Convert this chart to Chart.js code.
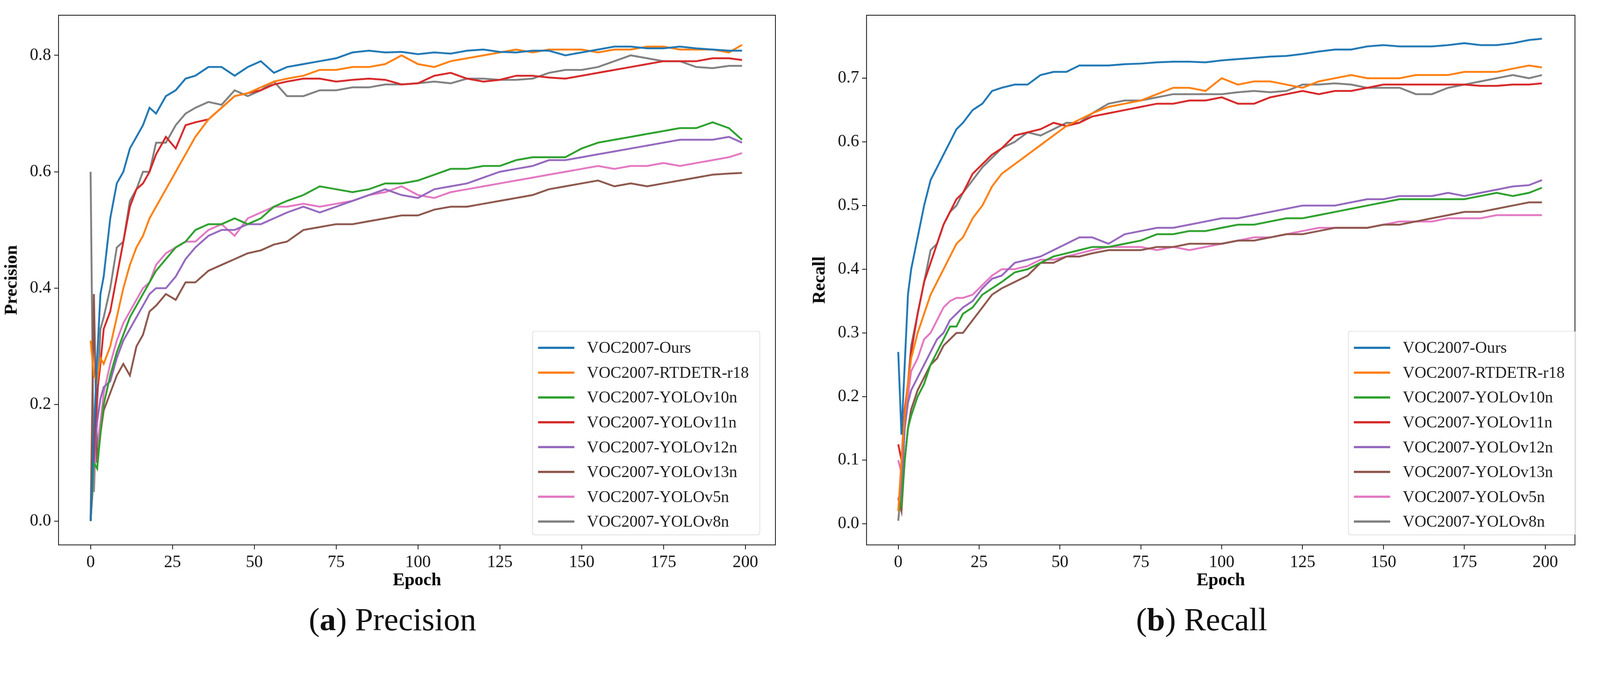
<!DOCTYPE html>
<html>
<head>
<meta charset="utf-8">
<script src="https://cdn.jsdelivr.net/npm/chart.js@4.4.1/dist/chart.umd.min.js"></script>
<style>
  body { margin: 0; background: #fff; overflow: hidden; font-family: "Liberation Serif", serif; }
  #page { position: relative; width: 4319px; height: 1748px; transform: scale(0.948); transform-origin: 0 0; }
  .wrap { position: absolute; top: 0; width: 2160px; height: 1600px; }
  .legend { position: absolute; border: 2px solid #ddd; border-radius: 8px; background: rgba(255,255,255,0.85); padding: 10px 14px; box-sizing: border-box; }
  .legend div { height: 67px; display: flex; align-items: center; font-size: 44px; color: #222; white-space: nowrap; }
  .legend span.sw { display: inline-block; width: 98px; height: 6px; margin-right: 34px; flex: none; }
  .cap { position: absolute; top: 1622px; font-size: 88px; color: #111; width: 1000px; text-align: center; }
</style>
</head>
<body>
<div id="page">
<div class="wrap" style="left:0"><canvas id="prec_chart"></canvas></div>
<div class="wrap" style="left:2182px"><canvas id="recall_chart"></canvas></div>
<div class="legend" id="leg1" style="left:1437px;top:893px;width:616px;height:552px"></div>
<div class="legend" id="leg2" style="left:3640px;top:893px;width:616px;height:552px"></div>
<div class="cap" style="left:560px">(<b>a</b>) Precision</div>
<div class="cap" style="left:2745px">(<b>b</b>) Recall</div>
</div>
<script>
/* global Chart */

const epochs = [0,1,2,3,4,6,8,10,12,14,16,18,20,23,26,29,32,36,40,44,48,52,56,60,65,70,75,80,85,90,95,100,105,110,115,120,125,130,135,140,145,150,155,160,165,170,175,180,185,190,195,199];

const names = ['VOC2007-Ours','VOC2007-RTDETR-r18','VOC2007-YOLOv10n','VOC2007-YOLOv11n','VOC2007-YOLOv12n','VOC2007-YOLOv13n','VOC2007-YOLOv5n','VOC2007-YOLOv8n'];
const colors = ['#1f77b4','#ff7f0e','#2ca02c','#d62728','#9467bd','#8c564b','#e377c2','#7f7f7f'];

// precision
const p_ours = [0.0,0.15,0.28,0.39,0.42,0.52,0.58,0.60,0.64,0.66,0.68,0.71,0.70,0.73,0.74,0.76,0.765,0.78,0.78,0.765,0.78,0.79,0.77,0.78,0.785,0.79,0.795,0.805,0.808,0.805,0.806,0.802,0.805,0.803,0.808,0.81,0.806,0.805,0.808,0.808,0.80,0.805,0.81,0.815,0.815,0.812,0.812,0.815,0.812,0.81,0.808,0.808];
const p_rtdetr = [0.31,0.25,0.24,0.28,0.27,0.30,0.35,0.40,0.44,0.47,0.49,0.52,0.54,0.57,0.60,0.63,0.66,0.69,0.71,0.73,0.735,0.745,0.755,0.76,0.765,0.775,0.775,0.78,0.78,0.785,0.80,0.785,0.78,0.79,0.795,0.80,0.805,0.81,0.805,0.81,0.81,0.81,0.805,0.81,0.81,0.815,0.815,0.81,0.81,0.81,0.805,0.818];
const p_v10 = [0.0,0.10,0.09,0.15,0.20,0.25,0.29,0.32,0.35,0.37,0.39,0.41,0.43,0.45,0.47,0.48,0.50,0.51,0.51,0.52,0.51,0.52,0.54,0.55,0.56,0.575,0.57,0.565,0.57,0.58,0.58,0.585,0.595,0.605,0.605,0.61,0.61,0.62,0.625,0.625,0.625,0.64,0.65,0.655,0.66,0.665,0.67,0.675,0.675,0.685,0.675,0.655];
const p_v11 = [0.0,0.12,0.22,0.27,0.33,0.36,0.42,0.48,0.54,0.57,0.58,0.60,0.63,0.66,0.64,0.68,0.685,0.69,0.71,0.73,0.735,0.74,0.75,0.755,0.76,0.76,0.755,0.758,0.76,0.758,0.75,0.752,0.765,0.77,0.76,0.755,0.758,0.765,0.765,0.762,0.76,0.765,0.77,0.775,0.78,0.785,0.79,0.79,0.79,0.795,0.795,0.792];
const p_v12 = [0.0,0.10,0.17,0.21,0.23,0.24,0.28,0.31,0.33,0.35,0.37,0.39,0.40,0.40,0.42,0.45,0.47,0.49,0.50,0.50,0.51,0.51,0.52,0.53,0.54,0.53,0.54,0.55,0.56,0.57,0.56,0.555,0.57,0.575,0.58,0.59,0.60,0.605,0.61,0.62,0.62,0.625,0.63,0.635,0.64,0.645,0.65,0.655,0.655,0.655,0.66,0.65];
const p_v13 = [0.0,0.39,0.10,0.15,0.19,0.22,0.25,0.27,0.25,0.30,0.32,0.36,0.37,0.39,0.38,0.41,0.41,0.43,0.44,0.45,0.46,0.465,0.475,0.48,0.50,0.505,0.51,0.51,0.515,0.52,0.525,0.525,0.535,0.54,0.54,0.545,0.55,0.555,0.56,0.57,0.575,0.58,0.585,0.575,0.58,0.575,0.58,0.585,0.59,0.595,0.597,0.598];
const p_v5 = [0.0,0.08,0.13,0.17,0.22,0.27,0.31,0.34,0.36,0.38,0.40,0.41,0.44,0.46,0.47,0.48,0.48,0.50,0.51,0.49,0.52,0.53,0.54,0.54,0.545,0.54,0.545,0.55,0.56,0.565,0.575,0.56,0.555,0.565,0.57,0.575,0.58,0.585,0.59,0.595,0.60,0.605,0.61,0.605,0.61,0.61,0.615,0.61,0.615,0.62,0.625,0.632];
const p_v8 = [0.60,0.05,0.20,0.33,0.35,0.40,0.47,0.48,0.55,0.57,0.60,0.60,0.65,0.65,0.68,0.70,0.71,0.72,0.715,0.74,0.73,0.74,0.755,0.73,0.73,0.74,0.74,0.745,0.745,0.75,0.75,0.752,0.755,0.752,0.76,0.76,0.758,0.758,0.76,0.77,0.775,0.775,0.78,0.79,0.80,0.795,0.79,0.79,0.78,0.778,0.782,0.782];

// recall
const r_ours = [0.27,0.14,0.25,0.36,0.40,0.45,0.50,0.54,0.56,0.58,0.60,0.62,0.63,0.65,0.66,0.68,0.685,0.69,0.69,0.705,0.71,0.71,0.72,0.72,0.72,0.722,0.723,0.725,0.726,0.726,0.725,0.728,0.73,0.732,0.734,0.735,0.738,0.742,0.745,0.745,0.75,0.752,0.75,0.75,0.75,0.752,0.755,0.752,0.752,0.755,0.76,0.762];
const r_rtdetr = [0.02,0.10,0.17,0.22,0.26,0.30,0.33,0.36,0.38,0.40,0.42,0.44,0.45,0.48,0.50,0.53,0.55,0.565,0.58,0.595,0.61,0.625,0.635,0.645,0.655,0.66,0.665,0.675,0.685,0.685,0.68,0.70,0.69,0.695,0.695,0.69,0.685,0.695,0.70,0.705,0.70,0.70,0.70,0.705,0.705,0.705,0.71,0.71,0.71,0.715,0.72,0.717];
const r_v10 = [0.02,0.03,0.10,0.15,0.17,0.20,0.22,0.25,0.27,0.29,0.31,0.31,0.33,0.34,0.36,0.37,0.38,0.395,0.40,0.41,0.42,0.425,0.43,0.435,0.435,0.44,0.445,0.455,0.455,0.46,0.46,0.465,0.47,0.47,0.475,0.48,0.48,0.485,0.49,0.495,0.50,0.505,0.51,0.51,0.51,0.51,0.51,0.515,0.52,0.515,0.52,0.528];
const r_v11 = [0.125,0.10,0.18,0.22,0.27,0.33,0.38,0.41,0.44,0.47,0.49,0.51,0.52,0.55,0.565,0.58,0.59,0.61,0.615,0.62,0.63,0.625,0.63,0.64,0.645,0.65,0.655,0.66,0.66,0.665,0.665,0.67,0.66,0.66,0.67,0.675,0.68,0.675,0.68,0.68,0.685,0.69,0.69,0.69,0.69,0.69,0.69,0.688,0.688,0.69,0.69,0.692];
const r_v12 = [0.04,0.05,0.15,0.19,0.21,0.23,0.25,0.27,0.29,0.30,0.32,0.33,0.34,0.35,0.37,0.385,0.39,0.41,0.415,0.42,0.43,0.44,0.45,0.45,0.44,0.455,0.46,0.465,0.465,0.47,0.475,0.48,0.48,0.485,0.49,0.495,0.50,0.50,0.50,0.505,0.51,0.51,0.515,0.515,0.515,0.52,0.515,0.52,0.525,0.53,0.532,0.54];
const r_v13 = [0.04,0.02,0.10,0.15,0.18,0.21,0.23,0.25,0.26,0.28,0.29,0.30,0.30,0.32,0.34,0.36,0.37,0.38,0.39,0.41,0.41,0.42,0.42,0.425,0.43,0.43,0.43,0.435,0.435,0.44,0.44,0.44,0.445,0.445,0.45,0.455,0.455,0.46,0.465,0.465,0.465,0.47,0.47,0.475,0.48,0.485,0.49,0.49,0.495,0.50,0.505,0.505];
const r_v5 = [0.10,0.08,0.16,0.20,0.24,0.26,0.29,0.30,0.32,0.34,0.35,0.355,0.355,0.36,0.375,0.39,0.40,0.40,0.405,0.415,0.415,0.42,0.425,0.43,0.435,0.435,0.435,0.43,0.435,0.43,0.435,0.44,0.445,0.45,0.45,0.455,0.46,0.465,0.465,0.465,0.465,0.47,0.475,0.475,0.475,0.48,0.48,0.48,0.485,0.485,0.485,0.485];
const r_v8 = [0.005,0.06,0.17,0.22,0.28,0.33,0.38,0.43,0.44,0.47,0.49,0.50,0.52,0.54,0.56,0.575,0.59,0.60,0.615,0.61,0.62,0.63,0.63,0.645,0.66,0.665,0.665,0.67,0.675,0.675,0.675,0.675,0.678,0.68,0.678,0.68,0.69,0.69,0.692,0.69,0.685,0.685,0.685,0.675,0.675,0.685,0.69,0.695,0.70,0.705,0.70,0.705];

const precisionSeries = [p_ours, p_rtdetr, p_v10, p_v11, p_v12, p_v13, p_v5, p_v8];
const recallSeries = [r_ours, r_rtdetr, r_v10, r_v11, r_v12, r_v13, r_v5, r_v8];

var frame = {
    id: 'frame',
    afterDraw: function (chart) {
        var a = chart.chartArea, ctx = chart.ctx;
        ctx.save();
        ctx.strokeStyle = '#000';
        ctx.lineWidth = 2;
        ctx.strokeRect(a.left, a.top, a.right - a.left, a.bottom - a.top);
        ctx.restore();
    }
};

function makeChart(id, series, yTitle, yMin, yMax, yStep) {
    var datasets = series.map(function (s, i) {
        return {
            label: names[i],
            data: s.map(function (v, j) { return {x: epochs[j], y: v}; }),
            borderColor: colors[i],
            borderWidth: 5,
            pointRadius: 0,
            tension: 0,
            fill: false
        };
    });
    var tickFont = {family: 'Liberation Serif', size: 46};
    return new Chart(document.getElementById(id), {
        type: 'line',
        data: {datasets: datasets},
        plugins: [frame],
        options: {
            responsive: false,
            animation: false,
            devicePixelRatio: 1,
            layout: {padding: {top: 41, right: 66}},
            plugins: {legend: {display: false}, tooltip: {enabled: false}},
            scales: {
                x: {
                    type: 'linear', min: -9.8, max: 209.2,
                    afterBuildTicks: function (s) { s.ticks = [0,25,50,75,100,125,150,175,200].map(function (v) { return {value: v}; }); },
                    grid: {drawOnChartArea: false, tickLength: 12, color: '#000', lineWidth: 2},
                    border: {display: false},
                    ticks: {font: tickFont, color: '#111', maxRotation: 0, padding: 8},
                    title: {display: true, text: 'Epoch', font: {family: 'Liberation Serif', size: 48, weight: 'bold'}, color: '#000', padding: {top: 0}},
                    afterFit: function (s) { s.height = 129; }
                },
                y: {
                    min: yMin, max: yMax,
                    afterBuildTicks: function (s) {
                        var t = [];
                        for (var v = 0; v <= yMax + 1e-9; v += yStep) t.push({value: Math.round(v * 10) / 10});
                        s.ticks = t;
                    },
                    grid: {drawOnChartArea: false, tickLength: 12, color: '#000', lineWidth: 2},
                    border: {display: false},
                    ticks: {font: tickFont, color: '#111', padding: 8, callback: function (v) { return v.toFixed(1); }},
                    title: {display: true, text: yTitle, font: {family: 'Liberation Serif', size: 48, weight: 'bold'}, color: '#000', padding: {bottom: 4}},
                    afterFit: function (s) { s.width = 158; }
                }
            }
        }
    });
}

function buildLegend(el) {
    names.forEach(function (n, i) {
        var row = document.createElement('div');
        row.innerHTML = '<span class="sw" style="background:' + colors[i] + '"></span>' + n;
        el.appendChild(row);
    });
}

var c1 = document.getElementById('prec_chart');
c1.width = 2160; c1.height = 1600;
var c2 = document.getElementById('recall_chart');
c2.width = 2137; c2.height = 1600;
makeChart('prec_chart', precisionSeries, 'Precision', -0.041, 0.869, 0.2);
makeChart('recall_chart', recallSeries, 'Recall', -0.033, 0.799, 0.1);
buildLegend(document.getElementById('leg1'));
buildLegend(document.getElementById('leg2'));
</script>
</body>
</html>
